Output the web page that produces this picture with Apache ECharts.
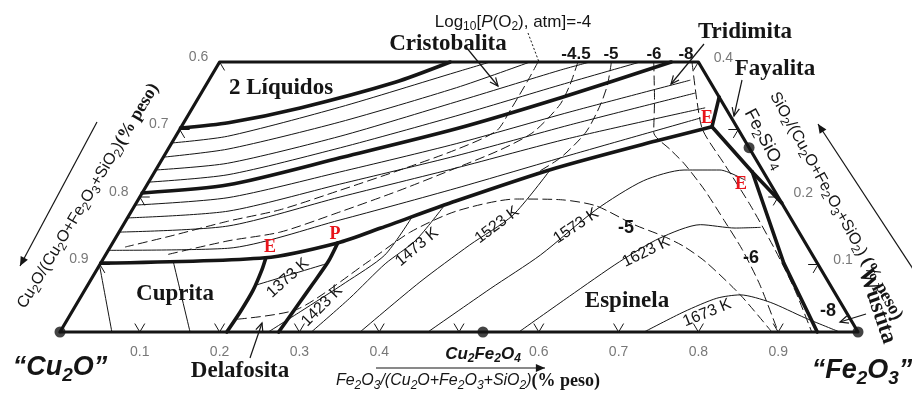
<!DOCTYPE html>
<html>
<head>
<meta charset="utf-8">
<script src="https://cdn.jsdelivr.net/npm/echarts@6/dist/echarts.min.js"></script>
<style>
html,body{margin:0;padding:0;background:#ffffff;}
#chart{width:912px;height:394px;}
</style>
</head>
<body>
<div id="chart"></div>
<script>
// Compositions are weight fractions [Fe2O3, SiO2]; Cu2O is the remainder.
const frameOutline = [[0,0],[1,0],[0.6,0.4],[0,0.4],[0,0]];

// phase boundaries (heavy lines)
const twoLiquidBoundary = [[0,0.302],[0.056,0.310],[0.135,0.332],[0.235,0.370],[0.289,0.4]];
const cristobaliteBoundary = [[0,0.206],[0.102,0.218],[0.222,0.258],[0.346,0.301],[0.454,0.347],[0.566,0.4]];
const spinelLiquidus = [[0,0.102],[0.202,0.110],[0.282,0.132],[0.325,0.154],[0.399,0.194],[0.500,0.243],[0.605,0.283],[0.665,0.304]];
const cupriteDelafossite = [[0.203,0.110],[0.207,0.092],[0.211,0.062],[0.211,0.030],[0.209,0]];
const delafossiteSpinel = [[0.282,0.132],[0.284,0.104],[0.281,0.070],[0.278,0.040],[0.274,0]];
const tridymiteFayalite = [[0.665,0.304],[0.652,0.348]];
const fayaliteSpinel = [[0.665,0.304],[0.749,0.237]];
const fayaliteWustite = [[0.749,0.237],[0.809,0.191]];
const spinelWustite = [[0.749,0.237],[0.856,0.102],[0.949,0]];

// liquidus isotherms in the silica field
const silicaIso1 = [[0,0.280],[0.065,0.290],[0.184,0.333],[0.304,0.385],[0.339,0.4]];
const silicaIso2 = [[0,0.259],[0.075,0.271],[0.195,0.311],[0.316,0.362],[0.389,0.4]];
const silicaIso3 = [[0,0.240],[0.085,0.250],[0.206,0.290],[0.326,0.341],[0.433,0.388],[0.464,0.4]];
const silicaIso4 = [[0,0.222],[0.094,0.233],[0.215,0.273],[0.336,0.320],[0.444,0.366],[0.527,0.4]];

// liquidus isotherms in the liquid band
const liquidIso1 = [[0,0.188],[0.111,0.199],[0.232,0.237],[0.357,0.279],[0.476,0.326],[0.603,0.373]];
const liquidIso2 = [[0,0.169],[0.121,0.179],[0.241,0.219],[0.366,0.261],[0.486,0.307],[0.619,0.354]];
const liquidIso3 = [[0,0.148],[0.132,0.157],[0.251,0.200],[0.375,0.243],[0.495,0.287],[0.642,0.332]];
const liquidIso4 = [[0,0.121],[0.148,0.124],[0.268,0.166],[0.390,0.213],[0.508,0.262],[0.644,0.317]];

// isotherms in the cuprite field
const cupriteIso1 = [[0,0.099],[0.065,0]];
const cupriteIso2 = [[0.090,0.104],[0.163,0]];

// isotherms, K
const iso1373 = [[0.212,0.070],[0.283,0.101]];
const iso1423 = [[0.261,0],[0.286,0.030],[0.321,0.073],[0.350,0.114],[0.356,0.170]];
const iso1473 = [[0.315,0],[0.338,0.050],[0.357,0.101],[0.378,0.136],[0.388,0.188]];
const iso1523 = [[0.376,0],[0.414,0.074],[0.449,0.129],[0.481,0.173],[0.494,0.239]];
const iso1573 = [[0.461,0],[0.507,0.064],[0.545,0.114],[0.581,0.181],[0.619,0.224],[0.662,0.240],[0.707,0.240],[0.746,0.225]];
const iso1623 = [[0.575,0],[0.612,0.053],[0.649,0.104],[0.682,0.139],[0.723,0.159],[0.769,0.154],[0.800,0.155]];
const iso1673 = [[0.732,0],[0.767,0.030],[0.798,0.050],[0.825,0.055],[0.868,0.044],[0.923,0.021],[0.977,0]];

// oxygen isobars, log10 P(O2) / atm
const pO2m4 = [[0.399,0.4],[0.400,0.373],[0.400,0.329],[0.398,0.298],[0.361,0.270],[0.306,0.240],[0.246,0.210],[0.185,0.181],[0.128,0.164],[0.067,0.142],[0.019,0.126]];
const pO2m45 = [[0.449,0.4],[0.456,0.366],[0.458,0.336],[0.445,0.296],[0.417,0.270],[0.375,0.243],[0.321,0.210],[0.262,0.178],[0.202,0.148],[0.143,0.135],[0.075,0.114]];
const pO2m5liq = [[0.491,0.4],[0.503,0.366],[0.509,0.336],[0.511,0.296],[0.498,0.258],[0.474,0.230]];
const pO2m5sol = [[0.213,0.019],[0.281,0.034],[0.334,0.104],[0.365,0.148],[0.407,0.179],[0.473,0.197],[0.529,0.196],[0.578,0.187],[0.640,0.159],[0.685,0.142],[0.718,0.127],[0.757,0.104],[0.825,0.055],[0.892,0]];
const pO2m6 = [[0.544,0.4],[0.573,0.344],[0.596,0.296],[0.630,0.270],[0.658,0.249],[0.703,0.210],[0.752,0.163],[0.794,0.122],[0.842,0.070],[0.900,0]];
const pO2m8 = [[0.592,0.4],[0.626,0.344],[0.656,0.299],[0.710,0.247],[0.771,0.188],[0.835,0.122],[0.890,0.062],[0.942,0]];

// compounds marked on the edges
const compounds = [[0,0],[1,0],[0.53,0],[0.727,0.273]];

// axis ticks
const baseTicks = [0.1,0.2,0.3,0.4,0.5,0.6,0.7,0.8,0.9];
const baseTickLabels = ['0.1','0.2','0.3','0.4','','0.6','0.7','0.8','0.9'];
const leftTicks = [0.9,0.8,0.7,0.6];
const leftTickLabels = ['0.9','0.8','0.7','0.6'];
const rightTicks = [0.1,0.2,0.3,0.4];
const rightTickLabels = ['0.1','0.2','','0.4'];

// ternary composition -> plane coordinates
const P = p => [p[0] + p[1] / 2, p[1]];

const INK = '#151515';
const series = [];
function addLine(pts, width, dash, smooth, z) {
  series.push({
    type: 'line', data: pts.map(P), symbol: 'none', clip: false, silent: true,
    smooth: smooth ? 0.25 : false, z: z || 2,
    lineStyle: { color: INK, width: width, type: dash ? [9, 5] : 'solid', cap: 'round', join: 'round' }
  });
}

// thin isotherms
[silicaIso1, silicaIso2, silicaIso3, silicaIso4,
 liquidIso1, liquidIso2, liquidIso3, liquidIso4,
 cupriteIso1, cupriteIso2,
 iso1373, iso1423, iso1473, iso1523, iso1573, iso1623, iso1673].forEach(c => addLine(c, 1, false, true, 2));
// isobars
[pO2m4, pO2m45, pO2m5liq, pO2m5sol, pO2m6, pO2m8].forEach(c => addLine(c, 1, true, true, 3));
// heavy boundaries
[twoLiquidBoundary, cristobaliteBoundary, spinelLiquidus, cupriteDelafossite, delafossiteSpinel].forEach(c => addLine(c, 3.6, false, true, 5));
[tridymiteFayalite, fayaliteSpinel, fayaliteWustite, spinelWustite].forEach(c => addLine(c, 3.6, false, false, 5));
addLine(frameOutline, 3.2, false, false, 6);

// V-shaped tick marks
const d = 0.012;
baseTicks.forEach(f => addLine([[f, d], [f, 0], [f - d, d]], 1, false, false, 4));
leftTicks.forEach(c => { const s = 1 - c; addLine([[d, s], [0, s], [d, s - d]], 1, false, false, 4); });
rightTicks.forEach(s => { const f = 1 - s; addLine([[f - d, s], [f, s], [f, s - d]], 1, false, false, 4); });

// tick labels
const tickLabel = { show: true, formatter: '{b}', color: '#555', fontSize: 14, fontFamily: 'Liberation Sans' };
series.push({ type: 'scatter', symbolSize: 0, silent: true, clip: false,
  data: baseTicks.map((f, i) => ({ value: P([f, 0]), name: baseTickLabels[i] })),
  label: Object.assign({ position: 'inside', offset: [0, 20] }, tickLabel) });
series.push({ type: 'scatter', symbolSize: 0, silent: true, clip: false,
  data: leftTicks.map((c, i) => ({ value: P([0, 1 - c]), name: leftTickLabels[i] })),
  label: Object.assign({ position: 'inside', offset: [-21, -5] }, tickLabel) });
series.push({ type: 'scatter', symbolSize: 0, silent: true, clip: false,
  data: rightTicks.map((s, i) => ({ value: P([1 - s, s]), name: rightTickLabels[i] })),
  label: Object.assign({ position: 'inside', offset: [25, -4] }, tickLabel) });

// compound points
series.push({ type: 'scatter', symbolSize: 11, silent: true, clip: false, z: 8,
  itemStyle: { color: INK }, data: compounds.map(P) });

// ---------- text ----------
const SANS = 'Liberation Sans', SERIF = 'Liberation Serif';
function chem(str) {
  return '{n|' + str.replace(/_(\d+)/g, '}{s|$1}{n|') + '}';
}
function richSet(size, opts) {
  opts = opts || {};
  const base = { fontSize: size, fontFamily: SANS, fill: INK, fontStyle: opts.italic ? 'italic' : 'normal', fontWeight: opts.bold ? 'bold' : 'normal', verticalAlign: 'middle' };
  return {
    n: base,
    s: Object.assign({}, base, { fontSize: Math.round(size * 0.72), padding: [Math.round(size * 0.55), 0, 0, 0] }),
    i: Object.assign({}, base, { fontStyle: 'italic' }),
    p: { fontSize: size + 2, fontFamily: SERIF, fontWeight: 'bold', fill: INK, verticalAlign: 'middle' }
  };
}
const deg = Math.PI / 180;
function txt(x, y, text, size, opts) {
  opts = opts || {};
  return { type: 'text', x: x, y: y, rotation: (opts.rot || 0) * deg, z: 20,
    style: { text: text, rich: richSet(size, opts), align: 'center', verticalAlign: 'middle',
      fontSize: size, fontFamily: opts.serif ? SERIF : SANS, fontWeight: opts.bold ? 'bold' : 'normal',
      fontStyle: opts.italic ? 'italic' : 'normal', fill: opts.color || INK } };
}
function arrow(x1, y1, x2, y2, filled, size) {
  const a = Math.atan2(y2 - y1, x2 - x1), s = size || 8, w = 0.42;
  const p1 = [x2 - s * Math.cos(a - w), y2 - s * Math.sin(a - w)];
  const p2 = [x2 - s * Math.cos(a + w), y2 - s * Math.sin(a + w)];
  const out = [{ type: 'line', z: 20, shape: { x1: x1, y1: y1, x2: x2, y2: y2 }, style: { stroke: INK, lineWidth: 1.2 } }];
  out.push(filled
    ? { type: 'polygon', z: 20, shape: { points: [[x2, y2], p1, p2] }, style: { fill: INK } }
    : { type: 'polyline', z: 20, shape: { points: [p1, [x2, y2], p2] }, style: { stroke: INK, lineWidth: 1.2, fill: null } });
  return out;
}

const RED = '#e8141b';
const graphic = [
  // field names
  txt(281, 88, '2 Líquidos', 23, { serif: true, bold: true }),
  txt(448, 44, 'Cristobalita', 23, { serif: true, bold: true }),
  txt(745, 32, 'Tridimita', 23, { serif: true, bold: true }),
  txt(775, 69, 'Fayalita', 23, { serif: true, bold: true }),
  txt(175, 294, 'Cuprita', 23, { serif: true, bold: true }),
  txt(240, 371, 'Delafosita', 23, { serif: true, bold: true }),
  txt(627, 301, 'Espinela', 23, { serif: true, bold: true }),
  txt(877, 306, 'Wüstita', 23, { serif: true, bold: true, rot: -71 }),
  // invariant points
  txt(707, 118, 'E', 18, { serif: true, bold: true, color: RED }),
  txt(741, 184, 'E', 18, { serif: true, bold: true, color: RED }),
  txt(270, 247, 'E', 18, { serif: true, bold: true, color: RED }),
  txt(335, 234, 'P', 18, { serif: true, bold: true, color: RED }),
  // isobar labels
  txt(576, 54, '-4.5', 17, { bold: true }),
  txt(611, 54, '-5', 17, { bold: true }),
  txt(654, 54, '-6', 17, { bold: true }),
  txt(686, 54, '-8', 17, { bold: true }),
  txt(626, 228, '-5', 18, { bold: true }),
  txt(751, 258, '-6', 18, { bold: true }),
  txt(828, 311, '-8', 18, { bold: true }),
  txt(513, 22, '{n|Log}{s|10}{n|[}{i|P}{n|(O}{s|2}{n|), atm]=-4}', 17),
  // isotherm labels
  txt(288, 278, '1373 K', 16, { rot: 42 }),
  txt(322, 306, '1423 K', 16, { rot: 45 }),
  txt(417, 247, '1473 K', 16, { rot: 40 }),
  txt(497, 225, '1523 K', 16, { rot: 37 }),
  txt(576, 226, '1573 K', 16, { rot: 34 }),
  txt(646, 252, '1623 K', 16, { rot: 26 }),
  txt(707, 313, '1673 K', 16, { rot: 22 }),
  // compounds and corners
  txt(60, 368, chem('“Cu_2O”'), 27, { bold: true, italic: true }),
  txt(862, 371, chem('“Fe_2O_3”'), 27, { bold: true, italic: true }),
  txt(483, 354, chem('Cu_2Fe_2O_4'), 17, { bold: true, italic: true }),
  txt(764, 139, chem('Fe_2SiO_4'), 18, { rot: -62 }),
  // axis titles
  txt(468, 381, chem('Fe_2O_3/(Cu_2O+Fe_2O_3+SiO_2)').replace(/\{n\|/g, '{i|') + '{p|(% peso)}', 16, { italic: true }),
  txt(88, 196, chem('Cu_2O/(Cu_2O+Fe_2O_3+SiO_2)') + '{p|(% peso)}', 16, { rot: 59 }),
  txt(836, 206, chem('SiO_2/(Cu_2O+Fe_2O_3+SiO_2)') + '{p| (% peso)}', 16, { rot: -61 })
].concat(
  arrow(466, 47, 498, 86, false, 9),
  arrow(704, 44, 671, 84, false, 9),
  arrow(742, 80, 734, 116, false, 9),
  arrow(250, 358, 262, 323, false, 9),
  arrow(866, 314, 840, 322, false, 9),
  arrow(376, 368, 545, 368, true, 10),
  arrow(97, 122, 20, 266, true, 10),
  arrow(915, 272, 818, 124, true, 10),
  [{ type: 'line', z: 20, shape: { x1: 528, y1: 33, x2: 539, y2: 62 }, style: { stroke: INK, lineWidth: 1, lineDash: [2, 2] } }]
);

const chart = echarts.init(document.getElementById('chart'), null, { renderer: 'canvas' });
chart.setOption({
  backgroundColor: '#ffffff',
  animation: false,
  grid: { left: 60, right: 54, top: 62, bottom: 62 },
  xAxis: { type: 'value', min: 0, max: 1, show: false },
  yAxis: { type: 'value', min: 0, max: 0.4, show: false },
  series: series,
  graphic: graphic
});
</script>
</body>
</html>
